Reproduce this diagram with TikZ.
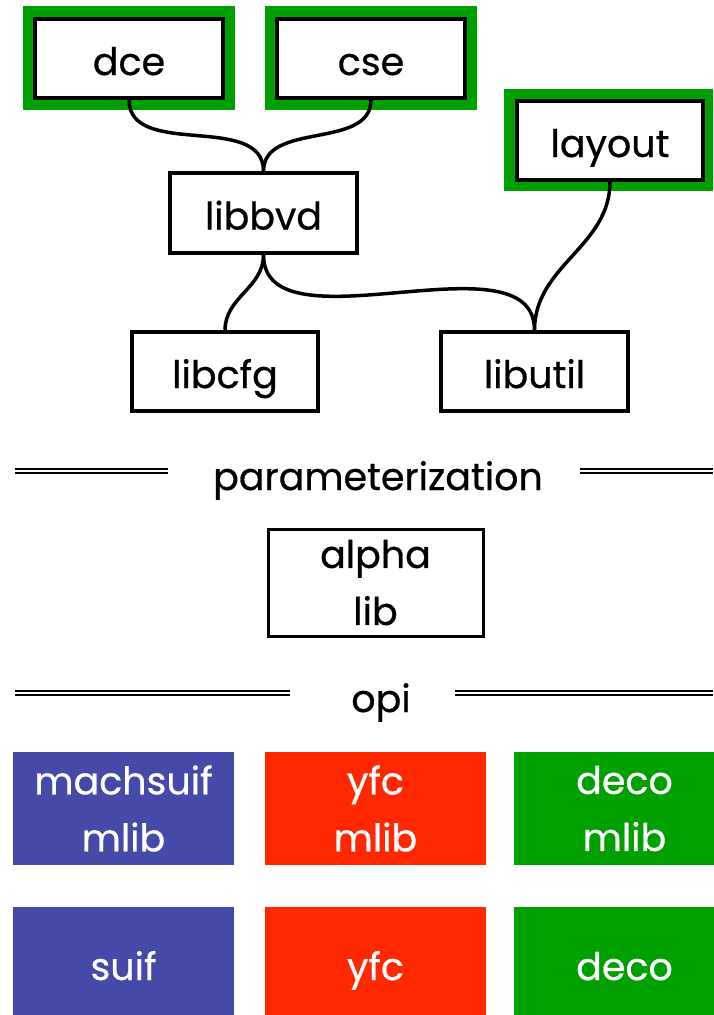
\documentclass[tikz,border=0pt]{standalone}
\usepackage{fontspec}
\setmainfont{Poppins}[FakeBold=0.6]
\definecolor{gbord}{RGB}{0,160,0}
\definecolor{cblue}{RGB}{69,73,168}
\definecolor{cred}{RGB}{255,40,0}
\definecolor{cgreen}{RGB}{0,160,0}
\begin{document}
\begin{tikzpicture}[x=1pt,y=-1pt,
  txt/.style={font=\fontsize{38}{57}\selectfont, align=center, inner sep=0pt},
  one/.style={text height=35pt, text depth=2pt},
  onec/.style={text height=40pt, text depth=2pt},
  box/.style={txt, draw=black, line width=3.5pt, fill=white},
  glow/.style={fill=gbord, inner sep=0pt, draw=none},
  cbox/.style={txt, text=white, draw=none, inner sep=0pt},
  conn/.style={line width=3.5pt, black},
  dline/.style={double=white, line width=1.6pt, double distance=2.6pt, black}
]
\useasboundingbox (0,0) rectangle (713,1015);
% green surrounds
\node[glow, minimum width=212pt, minimum height=104pt] (dceg) at (129,58) {};
\node[glow, minimum width=212pt, minimum height=104pt] (cseg) at (371,58) {};
\node[glow, minimum width=209pt, minimum height=102pt] (layoutg) at (608.5,140) {};
% boxes
\node[box, one, minimum width=188pt, minimum height=79pt] (dce) at (129,58.5) {dce};
\node[box, one, minimum width=188pt, minimum height=79pt] (cse) at (371,58.5) {cse};
\node[box, one, minimum width=186pt, minimum height=79pt] (layout) at (610,140.5) {layout};
\node[box, one, minimum width=187pt, minimum height=80pt] (libbvd) at (263.5,213) {libbvd};
\node[box, one, minimum width=186pt, minimum height=79pt] (libcfg) at (225,371.5) {libcfg};
\node[box, one, minimum width=187pt, minimum height=79pt] (libutil) at (534.5,371.5) {libutil};
% connectors
\draw[conn] (dce.south) to[out=-90,in=90] (libbvd.north);
\draw[conn] (cse.south) to[out=-90,in=90] (libbvd.north);
\draw[conn] (libbvd.south) to[out=-90,in=90] (libcfg.north);
\draw[conn] (libbvd.south) to[out=-90,in=90,looseness=0.9] (libutil.north);
\draw[conn] (layout.south) to[out=-90,in=90] (libutil.north);
% parameterization
\node[txt, anchor=base] (param) at (378,490) {parameterization};
\coordinate (pl1) at (15,471);
\coordinate (pl2) at (168,471);
\coordinate (pr1) at (580,471);
\coordinate (pr2) at (713,471);
\draw[dline] (pl1) -- (pl2);
\draw[dline] (pr1) -- (pr2);
\node[box, line width=3pt, minimum width=215pt, minimum height=107pt] (alpha) at (375.5,582.5) {alpha\\lib};
% opi
\node[txt, anchor=base] (opi) at (381,712) {opi};
\coordinate (ol1) at (15,693);
\coordinate (ol2) at (290,693);
\coordinate (or1) at (455,693);
\coordinate (or2) at (713,693);
\draw[dline] (ol1) -- (ol2);
\draw[dline] (or1) -- (or2);
% coloured boxes
\node[cbox, fill=cblue, minimum width=221pt, minimum height=113pt] (machsuif) at (123.5,808.5) {machsuif\\mlib};
\node[cbox, fill=cred, minimum width=221pt, minimum height=113pt] (yfcmlib) at (375.5,808.5) {yfc\\mlib};
\node[cbox, fill=cgreen, minimum width=221pt, minimum height=113pt] (decomlib) at (624.5,808.5) {deco\\mlib};
\node[cbox, onec, fill=cblue, minimum width=221pt, minimum height=108pt] (suif) at (123.5,961) {suif};
\node[cbox, onec, fill=cred, minimum width=221pt, minimum height=108pt] (yfc) at (375.5,961) {yfc};
\node[cbox, onec, fill=cgreen, minimum width=221pt, minimum height=108pt] (deco) at (624.5,961) {deco};
\end{tikzpicture}
\end{document}
